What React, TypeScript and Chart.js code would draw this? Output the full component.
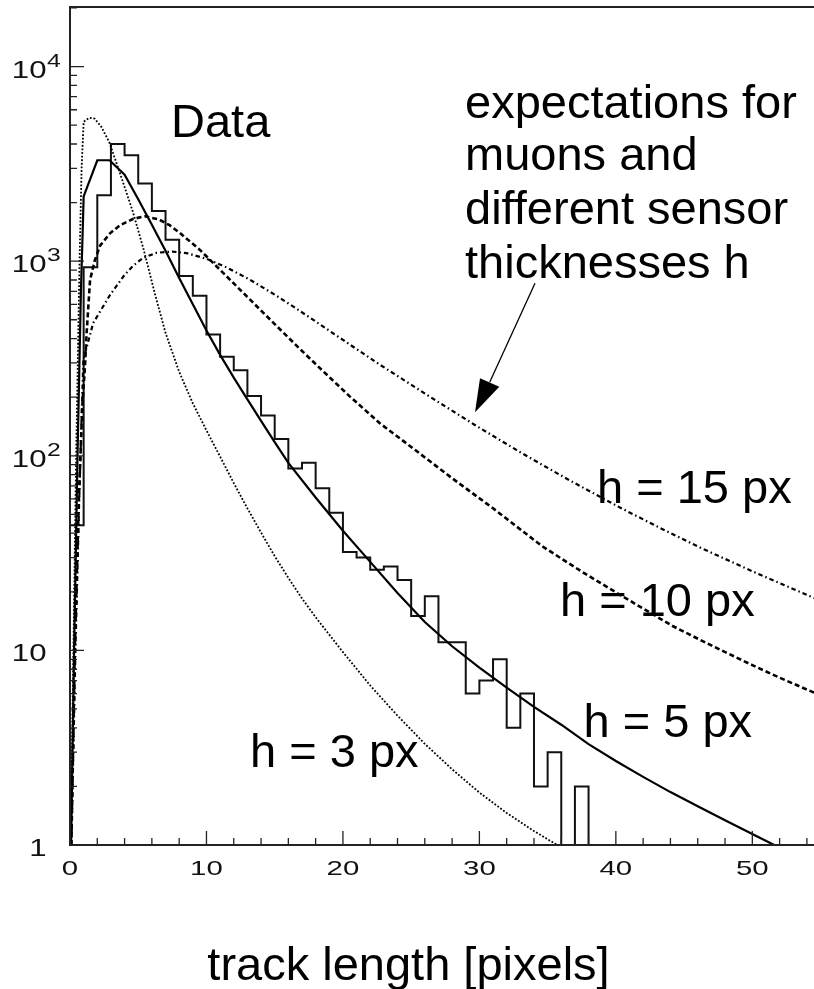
import React, { useEffect, useRef } from "react";
import { Chart, registerables } from "chart.js";

Chart.register(...registerables);

// ---------- data ----------
// histogram: counts per 1-pixel bin starting at 0
const dataCounts = [44, 930, 2180, 4000, 3500, 2510, 1810, 1290, 840, 665, 420, 323, 275, 203, 161, 122, 86, 92, 68, 51, 32, 30, 26, 27, 23, 15, 19, 11, 11, 6, 7, 9, 4, 6, 2, 3, 0, 2];
const binWidth = 1;

// expectation h = 3 px (dotted)
const h3X = [0.05, 0.25, 0.45, 0.7, 0.85, 1.0, 1.4, 1.8, 2.3, 2.9, 3.8, 4.6, 5.4, 6.2, 7.0, 8.0, 9.0, 10, 11, 12, 13, 14, 15, 16, 17, 18, 20, 22, 24, 26, 28, 30, 32, 34, 35.7, 37];
const h3Y = [1, 10, 100, 1000, 3000, 5200, 5450, 5400, 4900, 4050, 2650, 1800, 1146, 689, 428, 270, 186, 135, 99, 72.4, 53.7, 40.3, 30.5, 23.6, 18.5, 14.8, 9.8, 6.6, 4.62, 3.31, 2.45, 1.86, 1.46, 1.18, 1.0, 0.9];

// expectation h = 5 px (solid)
const h5X = [0.08, 0.3, 0.55, 0.8, 0.95, 1.0, 2.0, 2.9, 4.0, 5, 6, 7, 8, 9, 10, 11, 12, 13, 14, 15, 16, 18, 20, 22, 24, 26, 28, 30, 32, 34, 36, 38, 40, 42, 44, 46, 48, 50, 51.6, 53];
const h5Y = [1, 10, 100, 700, 1600, 2150, 3300, 3300, 2780, 2080, 1540, 1130, 820, 600, 440, 330, 252, 195, 151, 117.5, 92, 61, 41.2, 28.5, 19.7, 14.0, 10.5, 8.15, 6.43, 5.13, 4.15, 3.3, 2.7, 2.24, 1.87, 1.58, 1.34, 1.14, 1.0, 0.9];

// expectation h = 10 px (dashed)
const h10X = [0.1, 0.35, 0.65, 0.9, 1.1, 1.22, 1.47, 1.8, 2.2, 2.93, 3.67, 4.64, 5.5, 6.5, 7.3, 8.06, 9.5, 11, 13.2, 15, 16.9, 18.5, 20.5, 22.7, 25, 28, 31, 34.6, 37.5, 40.3, 44.2, 47, 50, 52, 54.6];
const h10Y = [1, 10, 60, 180, 290, 430, 800, 1000, 1200, 1390, 1530, 1650, 1700, 1640, 1530, 1396, 1146, 902, 634, 475, 351, 274, 202, 147, 111, 76.7, 53.7, 34.3, 25.4, 19.3, 13.3, 10.6, 8.4, 7.24, 6.03];

// expectation h = 15 px (dash-dot)
const h15X = [0.1, 0.4, 0.7, 0.98, 1.7, 2.93, 4.0, 4.64, 5.37, 6.35, 7.5, 8.55, 10, 11.5, 13.2, 15, 16.4, 18, 20, 22.7, 26.9, 29.7, 33, 36.5, 40.3, 43, 46.2, 50, 54.6];
const h15Y = [1, 10, 70, 312, 481, 670, 850, 950, 1040, 1105, 1120, 1100, 1028, 927, 802, 673, 582, 490, 394, 294, 190.5, 143.5, 104.2, 75.5, 54.2, 43.4, 33.7, 25.5, 18.5];

// axes
const X_MIN = 0;
const X_MAX = 54.52;
const Y_MIN = 1;
const Y_MAX = 20230;
const xMajorTicks = [0, 10, 20, 30, 40, 50];
const xMinorStep = 2;
const xTickLabels = ["0", "10", "20", "30", "40", "50"];
const yMajorTicks = [1, 10, 100, 1000, 10000];
const yTickBases = ["1", "10", "10", "10", "10"];
const yTickExps = ["", "", "2", "3", "4"];

// annotations
const titleText = "track length [pixels]";
const dataLabel = "Data";
const noteLines = ["expectations for", "muons and", "different sensor", "thicknesses h"];
const curveLabels = ["h = 15 px", "h = 10 px", "h = 5 px", "h = 3 px"];

const TEXT_FONT = '"Liberation Sans", Arial, sans-serif';

function toPts(xs: number[], ys: number[]) {
  return xs.map((x, i) => ({ x, y: ys[i] }));
}

// empty bins are drawn at the bottom of the log axis (log(0) -> below the frame)
function shown(c: number) {
  return c > 0 ? c : Y_MIN / 2;
}

function histPts() {
  const pts = [{ x: 0, y: shown(0) }];
  dataCounts.forEach((c, i) => pts.push({ x: i * binWidth, y: shown(c) }));
  pts.push({ x: dataCounts.length * binWidth, y: shown(0) });
  return pts;
}

function scaledText(ctx: CanvasRenderingContext2D, t: string, x: number, y: number, sx: number, align: CanvasTextAlign) {
  ctx.save();
  ctx.translate(x, y);
  ctx.scale(sx, 1);
  ctx.textAlign = align;
  ctx.textBaseline = "alphabetic";
  ctx.fillText(t, 0, 0);
  ctx.restore();
}

const framePlugin = {
  id: "rootFrame",
  afterDatasetsDraw(chart: any) {
    const ctx: CanvasRenderingContext2D = chart.ctx;
    const xs = chart.scales.x;
    const ys = chart.scales.y;
    const { left, right, top, bottom } = chart.chartArea;
    ctx.save();
    ctx.strokeStyle = "#222";
    ctx.lineWidth = 2;
    ctx.setLineDash([]);
    // frame
    ctx.beginPath();
    ctx.moveTo(right + 2, top);
    ctx.lineTo(left, top);
    ctx.lineTo(left, bottom);
    ctx.lineTo(right + 2, bottom);
    ctx.stroke();

    // y ticks (inside)
    ctx.lineWidth = 1.3;
    ctx.beginPath();
    yMajorTicks.forEach((v) => {
      const py = ys.getPixelForValue(v);
      ctx.moveTo(left, py);
      ctx.lineTo(left + 14, py);
      for (let m = 2; m <= 9; m++) {
        const mv = v * m;
        if (mv > Y_MAX) break;
        const my = ys.getPixelForValue(mv);
        ctx.moveTo(left, my);
        ctx.lineTo(left + 7, my);
      }
    });
    // x ticks (inside)
    for (let v = X_MIN; v <= X_MAX; v += xMinorStep) {
      const px = xs.getPixelForValue(v);
      const major = xMajorTicks.includes(v);
      ctx.moveTo(px, bottom);
      ctx.lineTo(px, bottom - (major ? 14 : 7));
    }
    ctx.stroke();

    // tick labels
    ctx.fillStyle = "#111";
    ctx.font = `21px ${TEXT_FONT}`;
    xMajorTicks.forEach((v, i) => {
      scaledText(ctx, xTickLabels[i], xs.getPixelForValue(v), bottom + 30, 1.4, "center");
    });
    yMajorTicks.forEach((v, i) => {
      const py = ys.getPixelForValue(v);
      ctx.font = `24px ${TEXT_FONT}`;
      scaledText(ctx, yTickBases[i], left - 23.5, py + 11, 1.3, "right");
      if (yTickExps[i]) {
        ctx.font = `19px ${TEXT_FONT}`;
        scaledText(ctx, yTickExps[i], left - 23, py, 1.3, "left");
      }
    });

    // annotation texts
    ctx.fillStyle = "#000";
    ctx.font = `47px ${TEXT_FONT}`;
    ctx.textAlign = "left";
    ctx.textBaseline = "alphabetic";
    ctx.fillText(dataLabel, 171, 137);
    const noteBase = [118, 170, 224, 278];
    noteLines.forEach((t, i) => ctx.fillText(t, 465, noteBase[i]));
    ctx.fillText(curveLabels[0], 597, 503);
    ctx.fillText(curveLabels[1], 560, 616);
    ctx.fillText(curveLabels[2], 583.5, 737);
    ctx.fillText(curveLabels[3], 250, 767);

    ctx.textAlign = "center";
    ctx.fillText(titleText, 408.5, 980);

    // arrow
    ctx.strokeStyle = "#000";
    ctx.lineWidth = 1.3;
    ctx.beginPath();
    ctx.moveTo(535, 283.3);
    ctx.lineTo(489.7, 382.3);
    ctx.stroke();
    ctx.fillStyle = "#000";
    ctx.beginPath();
    ctx.moveTo(480, 378.3);
    ctx.lineTo(499.3, 386.7);
    ctx.lineTo(475, 412.3);
    ctx.closePath();
    ctx.fill();
    ctx.restore();
  },
};

export default function App() {
  const ref = useRef<HTMLCanvasElement | null>(null);
  useEffect(() => {
    if (!ref.current) return;
    const chart = new Chart(ref.current, {
      type: "line",
      data: {
        datasets: [
          {
            label: "h = 3 px",
            data: toPts(h3X, h3Y),
            borderColor: "#000",
            borderWidth: 1.8,
            borderDash: [1.8, 1.8],
            pointRadius: 0,
            tension: 0,
            fill: false,
          },
          {
            label: "h = 15 px",
            data: toPts(h15X, h15Y),
            borderColor: "#000",
            borderWidth: 2.2,
            borderDash: [4.5, 3, 1.5, 3],
            pointRadius: 0,
            tension: 0,
            fill: false,
          },
          {
            label: "h = 10 px",
            data: toPts(h10X, h10Y),
            borderColor: "#000",
            borderWidth: 2.6,
            borderDash: [5, 3],
            pointRadius: 0,
            tension: 0,
            fill: false,
          },
          {
            label: "h = 5 px",
            data: toPts(h5X, h5Y),
            borderColor: "#000",
            borderWidth: 2.2,
            pointRadius: 0,
            tension: 0,
            fill: false,
          },
          {
            label: "Data",
            data: histPts(),
            borderColor: "#111",
            borderWidth: 2,
            stepped: "before",
            pointRadius: 0,
            tension: 0,
            fill: false,
          },
        ],
      },
      options: {
        animation: false,
        responsive: false,
        maintainAspectRatio: false,
        devicePixelRatio: 1,
        layout: { padding: { left: 70, right: 0, top: 7, bottom: 144 } },
        plugins: { legend: { display: false }, tooltip: { enabled: false } },
        events: [],
        scales: {
          x: { type: "linear", min: X_MIN, max: X_MAX, display: false },
          y: { type: "logarithmic", min: Y_MIN, max: Y_MAX, display: false },
        },
      },
      plugins: [framePlugin],
    } as any);
    return () => chart.destroy();
  }, []);
  return (
    <div style={{ position: "fixed", left: 0, top: 0, width: 814, height: 989, background: "#fff", overflow: "hidden" }}>
      <canvas ref={ref} width={814} height={989} style={{ width: 814, height: 989, display: "block" }} />
    </div>
  );
}
